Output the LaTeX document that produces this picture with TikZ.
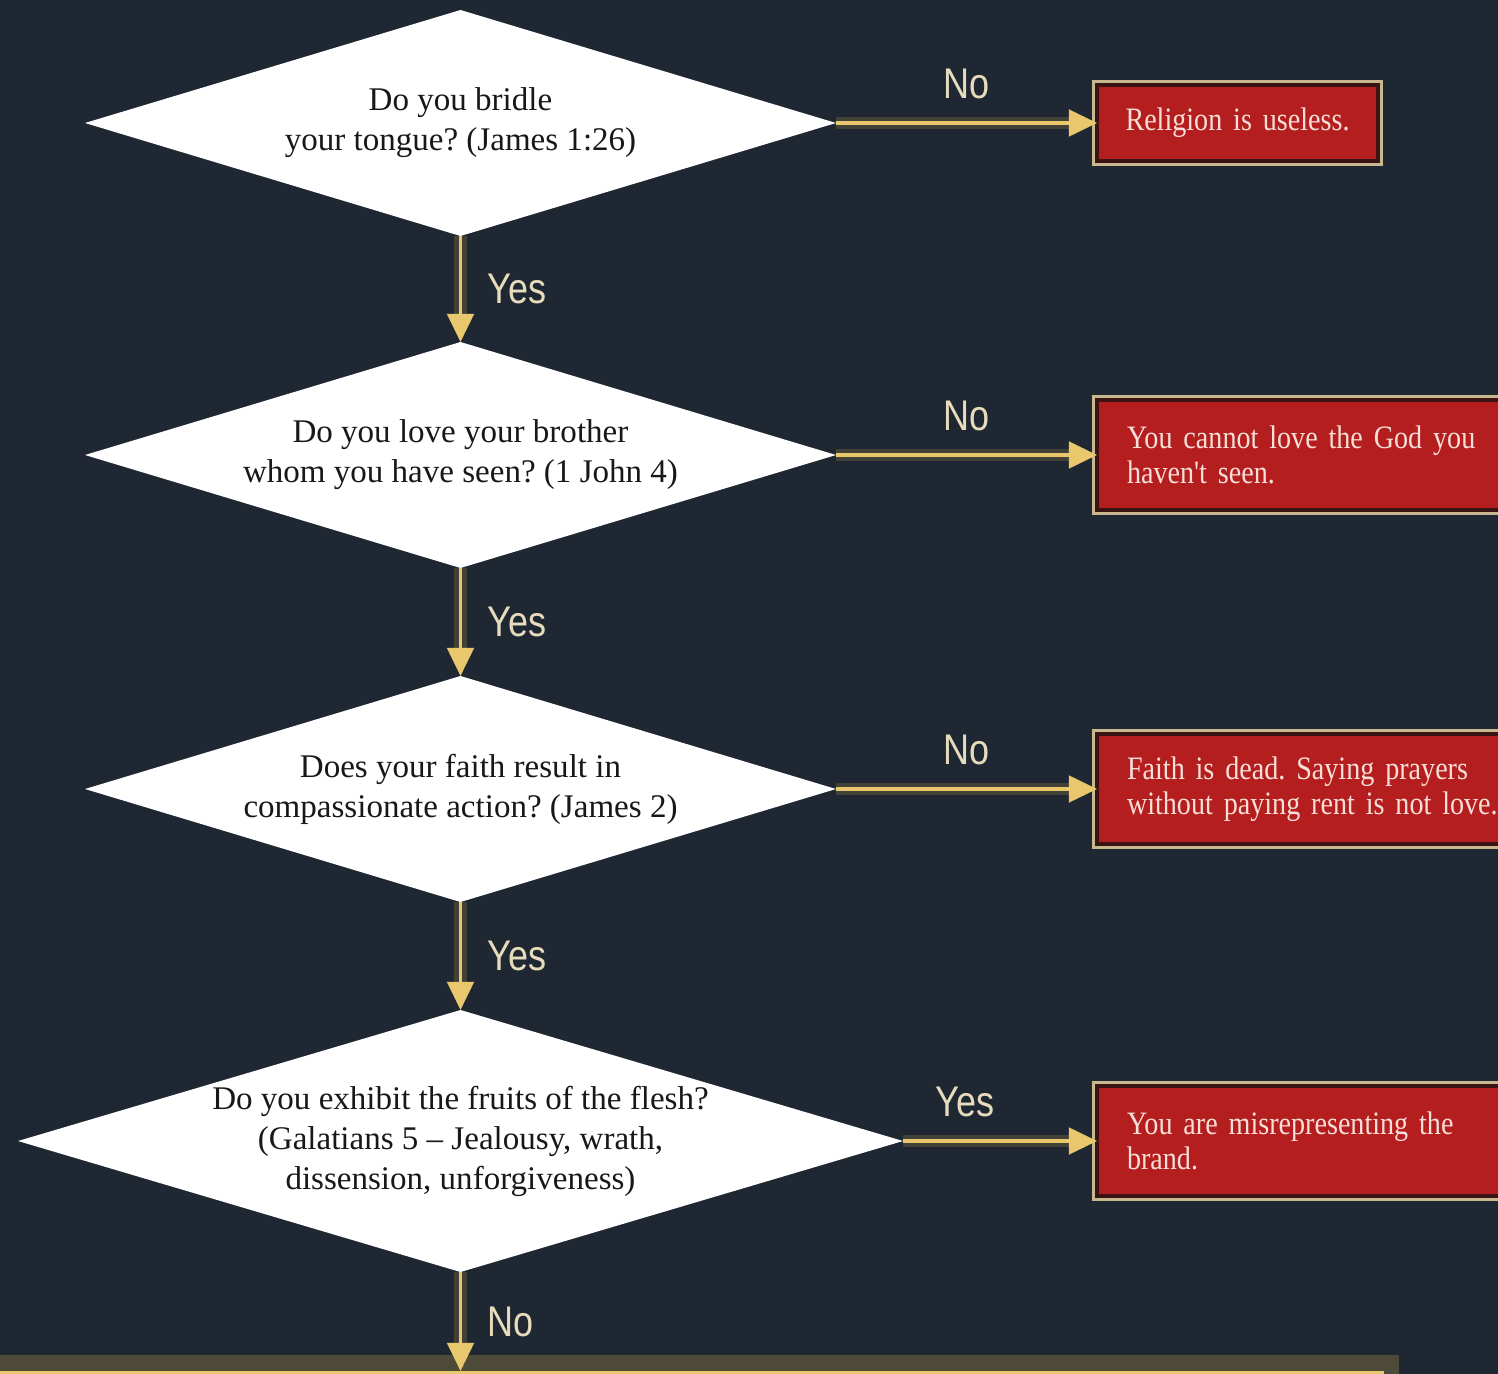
\documentclass[tikz,border=0pt]{standalone}
\usepackage{xcolor}
\usepackage{fontspec}
\setmainfont{Liberation Serif}
\newfontfamily\verdictfont{Liberation Serif}[FakeStretch=0.86, WordSpace=0.6]
\newfontfamily\answerfont{Liberation Sans}[FakeStretch=0.84]
\usepackage{tikz}
\usetikzlibrary{shapes.geometric, arrows.meta, positioning}
\frenchspacing

\definecolor{bgnavy}{RGB}{31,39,51}
\definecolor{qtext}{RGB}{24,24,26}
\definecolor{arrowgold}{RGB}{233,199,109}
\definecolor{glowgold}{RGB}{150,128,70}
\definecolor{answerbeige}{RGB}{230,220,188}
\definecolor{boxred}{RGB}{181,30,30}
\definecolor{boxdark}{RGB}{58,20,18}
\definecolor{boxframe}{RGB}{200,183,143}
\definecolor{boxtext}{RGB}{248,222,216}

\begin{document}
\begin{tikzpicture}
\tikzstyle{question} = [diamond, aspect=3.32, fill=white, text=qtext, align=center, minimum width=7.51cm, minimum height=2.26cm, inner xsep=0pt, inner ysep=-8pt, outer sep=0pt, font=\fontsize{9.4}{11.4}\selectfont]
\tikzstyle{verdict} = [rectangle, fill=boxred, draw=boxdark, line width=1.4pt, preaction={draw=boxframe, line width=3.1pt}, text=boxtext, align=left, text width=3.9cm, minimum height=1.1cm, inner xsep=0.3cm, outer sep=0pt, font=\verdictfont\fontsize{9.3}{9.8}\selectfont]
\tikzstyle{arrow} = [draw=arrowgold, line width=0.9pt, -{Triangle[length=8pt, width=7.5pt]}, preaction={draw=glowgold, line width=3.5pt, opacity=0.3}]
\tikzstyle{answer} = [text=answerbeige, font=\answerfont\fontsize{12.2}{14}\selectfont]

\fill[bgnavy] (0,0) rectangle (14.98,-13.74);
\useasboundingbox (0,0) rectangle (14.98,-13.74);
\clip (0,0) rectangle (14.98,-13.74);

\node (bridle) [question] at (4.605,-1.23) {Do you bridle\\your tongue? (James 1:26)};
\node (brother) [question, below=1.06cm of bridle] {Do you love your brother\\whom you have seen? (1 John 4)};
\node (faith) [question, below=1.08cm of brother] {Does your faith result in\\compassionate action? (James 2)};
\node (flesh) [question, aspect=3.38, minimum width=8.85cm, minimum height=2.62cm, below=1.08cm of faith] {Do you exhibit the fruits of the flesh?\\(Galatians 5 -- Jealousy, wrath,\\dissension, unforgiveness)};

\node (useless) [verdict, text width=2.6cm, align=center, inner xsep=0.1cm, minimum width=2.81cm, minimum height=0.76cm, right=2.61cm of bridle] {Religion is useless.};
\node (unseen) [verdict, right=2.61cm of brother] {You cannot love the God you\\haven't seen.};
\node (dead) [verdict, right=2.61cm of faith] {Faith is dead. Saying prayers\\without paying rent is not love.};
\node (brand) [verdict, right=1.94cm of flesh] {You are misrepresenting the\\brand.};

\node (nextstep) [rectangle, draw=arrowgold, line width=1pt, preaction={draw=glowgold, line width=10pt, opacity=0.4}, minimum width=13.8cm, minimum height=1cm, anchor=north west] at (0,-13.71) {};

\draw [arrow] (bridle) -- node[answer, above=3pt] {No} (useless);
\draw [arrow] (brother) -- node[answer, above=3pt] {No} (unseen);
\draw [arrow] (faith) -- node[answer, above=3pt] {No} (dead);
\draw [arrow] (flesh) -- node[answer, above=3pt, pos=0.32] {Yes} (brand);

\draw [arrow] (bridle) -- node[answer, right=4pt] {Yes} (brother);
\draw [arrow] (brother) -- node[answer, right=4pt] {Yes} (faith);
\draw [arrow] (faith) -- node[answer, right=4pt] {Yes} (flesh);
\draw [arrow] (flesh) -- node[answer, right=4pt] {No} (flesh.south |- nextstep.north);
\end{tikzpicture}
\end{document}
